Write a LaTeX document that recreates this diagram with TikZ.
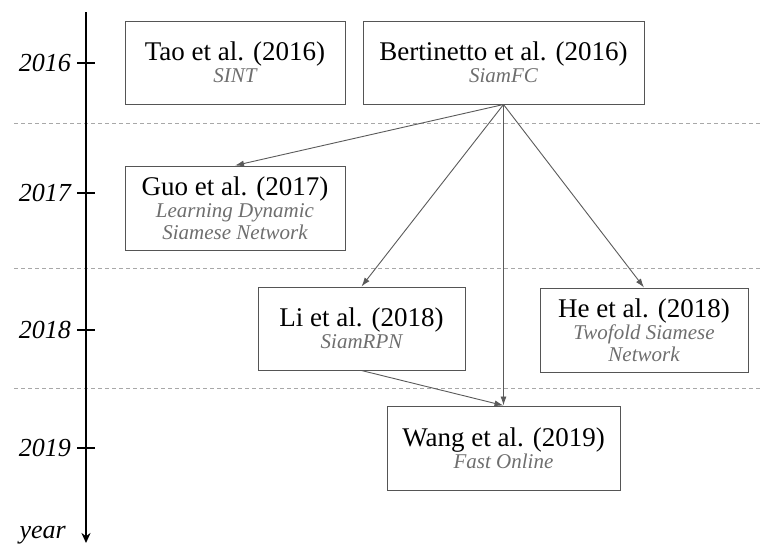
\documentclass[tikz,border=0pt]{standalone}
\usepackage{fontspec}
\setmainfont{Liberation Serif}
\usetikzlibrary{arrows.meta}
\definecolor{boxline}{HTML}{555555}
\definecolor{linkgray}{HTML}{5A5A5A}
\definecolor{subgray}{HTML}{6E6E6E}
\definecolor{gridgray}{HTML}{A8A8A8}
\tikzset{
  paper/.style={draw=boxline, line width=1pt, inner sep=0pt, align=center,
    font=\fontsize{27}{22}\selectfont},
  link/.style={draw=linkgray, line width=0.9pt, -{Latex[length=9pt,width=6pt]}},
  yeargrid/.style={draw=gridgray, line width=0.8pt, dash pattern=on 4pt off 3pt},
  yearlabel/.style={anchor=east, inner sep=0pt, font=\fontsize{26}{28}\selectfont\itshape},
}
\newcommand{\subt}[1]{{\color{subgray}\itshape\fontsize{21}{22}\selectfont #1}}
\begin{document}
\begin{tikzpicture}[x=1pt, y=-1pt]
\useasboundingbox (0,0) rectangle (760,550);

% year separators
\draw[yeargrid] (14,123) -- (760,123);
\draw[yeargrid] (14,268) -- (760,268);
\draw[yeargrid] (14,388) -- (760,388);

% time axis
\coordinate (axtop) at (86,12);
\coordinate (axbot) at (86,543);
\draw[line width=1.8pt, -{Stealth[length=10pt,width=9pt]}] (axtop) -- (axbot);
\foreach \yy/\lab in {63/2016, 193/2017, 330/2018, 448/2019}{
  \draw[line width=1.8pt] (77,\yy) -- (95,\yy);
  \node[yearlabel] (y\lab) at (71,\yy) {\lab};
}
\node[yearlabel] (ylab) at (66,535) {year};

% papers
\node[paper, minimum width=220pt, minimum height=83pt] (tao) at (235,62.5)
  {Tao et al. (2016)\\\subt{SINT}};
\node[paper, minimum width=281pt, minimum height=83pt] (bert) at (503.5,62.5)
  {Bertinetto et al. (2016)\\\subt{SiamFC}};
\node[paper, minimum width=220pt, minimum height=84pt] (guo) at (235,208)
  {Guo et al. (2017)\\\subt{Learning Dynamic}\\\subt{Siamese Network}};
\node[paper, minimum width=207pt, minimum height=83pt] (li) at (361.5,328.5)
  {Li et al. (2018)\\\subt{SiamRPN}};
\node[paper, minimum width=208pt, minimum height=84pt] (he) at (644,330)
  {He et al. (2018)\\\subt{Twofold Siamese}\\\subt{Network}};
\node[paper, minimum width=233pt, minimum height=84pt] (wang) at (503.5,448)
  {Wang et al. (2019)\\\subt{Fast Online}};

% influence links
\draw[link] (bert.south) -- (guo.north);
\draw[link] (bert.south) -- (li.north);
\draw[link] (bert.south) -- (he.north);
\draw[link] (bert.south) -- (wang.north);
\draw[link] (li.south) -- (wang.north);
\end{tikzpicture}
\end{document}
